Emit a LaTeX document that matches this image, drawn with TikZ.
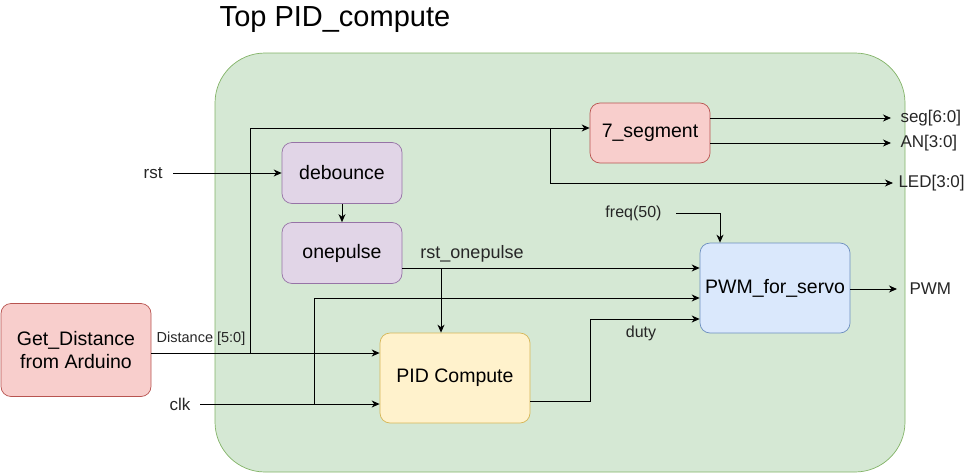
\documentclass[tikz,border=0pt]{standalone}
\usepackage{fontspec}
\setmainfont{Liberation Sans}
\usetikzlibrary{arrows.meta,positioning}

\definecolor{topfill}{HTML}{D5E8D4}
\definecolor{topline}{HTML}{82B366}
\definecolor{redfill}{HTML}{F8CECC}
\definecolor{redline}{HTML}{B85450}
\definecolor{purfill}{HTML}{E1D5E7}
\definecolor{purline}{HTML}{9673A6}
\definecolor{bluefill}{HTML}{DAE8FC}
\definecolor{blueline}{HTML}{6C8EBF}
\definecolor{yelfill}{HTML}{FFF2CC}
\definecolor{yelline}{HTML}{D6B656}

\tikzset{
  blk/.style={draw, rounded corners=10pt, align=center, inner sep=0pt,
    line width=0.7pt, font=\fontsize{19.5}{23}\selectfont},
  sig/.style={font=\fontsize{17}{20}\selectfont, text=black!85},
}

\begin{document}
\begin{tikzpicture}[x=1pt, y=-1pt, >={Stealth[length=8pt,width=7pt,inset=2.5pt]}, line width=1pt]
  \useasboundingbox (0,0) rectangle (971,474);

  % top module
  \draw[draw=topline, fill=topfill, rounded corners=50pt, line width=0.7pt] (215,53) rectangle (905,472);
  \draw (335,20) node[font=\fontsize{29}{32}\selectfont] (title) {Top PID\_compute};

  % blocks
  \draw (650,133) node[blk, fill=redfill, draw=redline, minimum width=120pt, minimum height=60pt] (seg7) {7\_segment};
  \draw (342,173) node[blk, fill=purfill, draw=purline, minimum width=120pt, minimum height=61pt] (deb) {debounce};
  \draw (342,253) node[blk, fill=purfill, draw=purline, minimum width=120pt, minimum height=61pt] (onep) {onepulse};
  \draw (775,288) node[blk, fill=bluefill, draw=blueline, minimum width=150pt, minimum height=90pt] (pwm) {PWM\_for\_servo};
  \draw (455,378) node[blk, fill=yelfill, draw=yelline, minimum width=150pt, minimum height=90pt] (pid) {PID Compute};
  \draw (76,350) node[blk, fill=redfill, draw=redline, minimum width=150pt, minimum height=93pt] (dist) {Get\_Distance\\from Arduino};

  % free ends and bends
  \coordinate (rstsrc) at (173,173);
  \coordinate (clksrc) at (200,404);
  \coordinate (freqsrc) at (676,213);
  \coordinate (dbus) at (250,353);
  \coordinate (ledtap) at (550,128);
  \coordinate (rtap) at (441,268);
  \coordinate (cbus) at (314,298);
  \coordinate (dturn) at (590,319);

  % inputs
  \node[sig, left=10pt of rstsrc, inner sep=0pt] (rstin) {rst};
  \node[sig, left=9pt of clksrc, inner sep=0pt] (clkin) {clk};
  \node[sig, left=14pt of freqsrc, inner sep=0pt, font=\fontsize{16}{19}\selectfont] (freqin) {freq(50)};

  % outputs
  \draw (891,118) node[sig, anchor=west, inner xsep=9pt] (segout) {seg[6:0]};
  \draw (891,143) node[sig, anchor=west, inner xsep=9pt] (anout) {AN[3:0]};
  \draw (893,183) node[sig, anchor=west, inner xsep=5pt] (ledout) {LED[3:0]};
  \draw (897,289) node[sig, anchor=west, inner xsep=12pt] (pwmout) {PWM};

  % wire labels
  \draw (201,339) node[font=\fontsize{14.5}{17}\selectfont, text=black!85] (distlab) {Distance [5:0]};
  \draw (472,254) node[font=\fontsize{18}{21}\selectfont, text=black!85] (rstlab) {rst\_onepulse};
  \draw (641,333) node[font=\fontsize{16}{19}\selectfont, text=black!85] (dutylab) {duty};

  % wires
  \draw[->] (rstsrc) -- (deb.west |- rstsrc);
  \draw[->] (deb) -- (onep);
  \draw[->] (dist.east |- dbus) -- (pid.west |- dbus);
  \draw[->] (dbus) |- (seg7.west |- ledtap);
  \draw[->] (ledtap) |- (ledout.west);
  \draw[->] (seg7.east |- segout.west) -- (segout.west);
  \draw[->] (seg7.east |- anout.west) -- (anout.west);
  \draw[->] (onep.east |- rtap) -- (pwm.west |- rtap);
  \draw[->] (rtap) -- (pid.north -| rtap);
  \draw[->] (clksrc) -- (pid.west |- clksrc);
  \draw[->] (clksrc -| cbus) -- (cbus) -- (pwm.west |- cbus);
  \draw[->] ([yshift=-23pt]pid.east) -| (dturn) -- (pwm.west |- dturn);
  \draw[->] (freqsrc) -| ([xshift=-55pt]pwm.north);
  \draw[->] (pwm.east |- pwmout.west) -- (pwmout.west);

\end{tikzpicture}
\end{document}
